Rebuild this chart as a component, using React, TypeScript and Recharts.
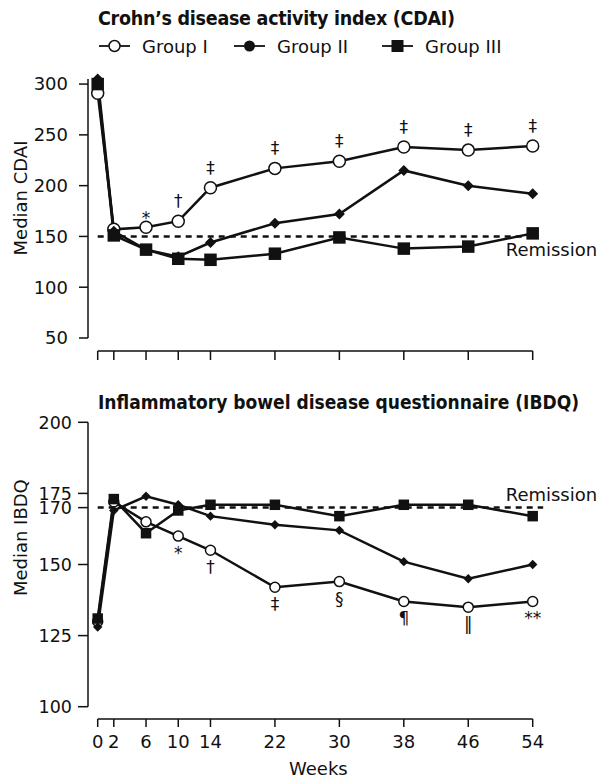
import { Line, LineChart, ReferenceLine, XAxis, YAxis } from "recharts";

// weeks after start of treatment
const weeks = [0, 2, 6, 10, 14, 22, 30, 38, 46, 54];

// median CDAI
const cdaiGroup1 = [291, 157, 159, 165, 198, 217, 224, 238, 235, 239];
const cdaiGroup2 = [305, 155, 137, 130, 144, 163, 172, 215, 200, 192];
const cdaiGroup3 = [300, 151, 137, 128, 127, 133, 149, 138, 140, 153];
const cdaiMarks = ["", "", "*", "†", "‡", "‡", "‡", "‡", "‡", "‡"];
const cdaiTicks = [50, 100, 150, 200, 250, 300];
const cdaiRemission = 150;

// median IBDQ
const ibdqGroup1 = [130, 172, 165, 160, 155, 142, 144, 137, 135, 137];
const ibdqGroup2 = [128, 169, 174, 171, 167, 164, 162, 151, 145, 150];
const ibdqGroup3 = [131, 173, 161, 169, 171, 171, 167, 171, 171, 167];
const ibdqMarks = ["", "", "", "*", "†", "‡", "§", "¶", "‖", "**"];
const ibdqTicks = [100, 125, 150, 170, 175, 200];
const ibdqRemission = 170;

const groupNames = ["Group I", "Group II", "Group III"];

const cdaiRows = weeks.map((week, i) => ({
  week,
  g1: cdaiGroup1[i],
  g2: cdaiGroup2[i],
  g3: cdaiGroup3[i],
  mark: cdaiMarks[i],
}));

const ibdqRows = weeks.map((week, i) => ({
  week,
  g1: ibdqGroup1[i],
  g2: ibdqGroup2[i],
  g3: ibdqGroup3[i],
  mark: ibdqMarks[i],
}));

const INK = "#111";
const FONT = "'DejaVu Sans', sans-serif";
const TITLE_FONT = "'DejaVu Sans Condensed', 'DejaVu Sans', sans-serif";
const tickStyle = { fill: INK, fontSize: 18, fontFamily: FONT };
const tickLine = { stroke: INK, strokeWidth: 1.5 };

// open circle, with the significance mark above (CDAI) or below (IBDQ)
function circleDot(r: number, marksAbove: boolean) {
  return (p: any) => {
    const { cx, cy, index, payload } = p;
    if (cx == null || cy == null) return <g key={`o${index}`} />;
    const sym: string = payload?.mark ?? "";
    const star = sym.startsWith("*");
    const base = marksAbove ? cy - (star ? 3 : 14) : cy + 23;
    return (
      <g key={`o${index}`}>
        <circle cx={cx} cy={cy} r={r} fill="#fff" stroke={INK} strokeWidth={1.5} />
        {sym && (
          <text x={cx} y={base} textAnchor="middle" fontFamily={FONT} fontSize={17} fill={INK}>
            {sym}
          </text>
        )}
      </g>
    );
  };
}

function diamondDot(h: number) {
  return (p: any) => {
    const { cx, cy, index } = p;
    if (cx == null || cy == null) return <g key={`d${index}`} />;
    return (
      <path
        key={`d${index}`}
        d={`M${cx},${cy - h}L${cx + h},${cy}L${cx},${cy + h}L${cx - h},${cy}Z`}
        fill={INK}
      />
    );
  };
}

function squareDot(s: number) {
  return (p: any) => {
    const { cx, cy, index } = p;
    if (cx == null || cy == null) return <g key={`s${index}`} />;
    return <rect key={`s${index}`} x={cx - s / 2} y={cy - s / 2} width={s} height={s} fill={INK} />;
  };
}

function yTitle(text: string, dy: number) {
  return (p: any) => {
    const vb = p.viewBox ?? { x: 0, y: 0, width: 0, height: 0 };
    const bx = vb.x + 27;
    const cy = vb.y + vb.height / 2 + dy;
    return (
      <text
        x={bx}
        y={cy}
        transform={`rotate(-90 ${bx} ${cy})`}
        textAnchor="middle"
        fontFamily={FONT}
        fontSize={18}
        fill={INK}
      >
        {text}
      </text>
    );
  };
}

// "Remission" starts at a fixed distance from the left end of the dashed line
function remissionLabel(dx: number, dy: number) {
  return (p: any) => {
    const vb = p.viewBox ?? { x: 0, y: 0, width: 0, height: 0 };
    return (
      <text x={vb.x + dx} y={vb.y + dy} fontFamily={FONT} fontSize={18} fill={INK}>
        Remission
      </text>
    );
  };
}

function weeksLabel(p: any) {
  const vb = p.viewBox ?? { x: 0, y: 0, width: 0, height: 0 };
  return (
    <text x={vb.x + vb.width / 2 + 8} y={vb.y + vb.height} textAnchor="middle" fontFamily={FONT} fontSize={18} fill={INK}>
      Weeks
    </text>
  );
}

function Legend() {
  const items = [
    { x: 99, marker: (cx: number) => <circle cx={cx} cy={46} r={5.5} fill="#fff" stroke={INK} strokeWidth={1.5} /> },
    { x: 234, marker: (cx: number) => <circle cx={cx} cy={46} r={5.5} fill={INK} /> },
    { x: 382, marker: (cx: number) => <rect x={cx - 6} y={40} width={12} height={12} fill={INK} /> },
  ];
  return (
    <g>
      {items.map((it, i) => (
        <g key={groupNames[i]}>
          <line x1={it.x} y1={46} x2={it.x + 31} y2={46} stroke={INK} strokeWidth={1.8} />
          {it.marker(it.x + 15.5)}
          <text x={it.x + 43} y={52.5} fontFamily={FONT} fontSize={18} fill={INK}>
            {groupNames[i]}
          </text>
        </g>
      ))}
    </g>
  );
}

export default function App() {
  return (
    <div style={{ position: "absolute", left: 0, top: 0, width: 605, height: 778, background: "#fff" }}>
      <div style={{ position: "absolute", left: 0, top: 0 }}>
        <LineChart width={605} height={380} data={cdaiRows} margin={{ top: 79, right: 72.3, bottom: 9, left: 0 }}>
          <XAxis
            dataKey="week"
            type="number"
            domain={[0, 54]}
            ticks={weeks}
            interval={0}
            padding={{ left: 9.7, right: 0 }}
            height={20}
            tickSize={9}
            tickFormatter={() => ""}
            axisLine={{ stroke: INK, strokeWidth: 1.5, strokeDasharray: "0 9.7 2000" }}
            tickLine={tickLine}
          />
          <YAxis
            type="number"
            domain={[50, 300]}
            ticks={cdaiTicks}
            interval={0}
            width={88}
            padding={{ top: 0, bottom: 13 }}
            tickSize={9}
            tickMargin={11}
            tick={tickStyle}
            axisLine={{ stroke: INK, strokeWidth: 1.5, strokeDasharray: "259 2000" }}
            tickLine={tickLine}
            label={yTitle("Median CDAI", -17)}
          />
          <ReferenceLine
            segment={[
              { x: 0, y: cdaiRemission },
              { x: 54, y: cdaiRemission },
            ]}
            stroke={INK}
            strokeWidth={2.5}
            strokeDasharray="6 5"
            ifOverflow="visible"
            label={remissionLabel(408, 20)}
          />
          <Line dataKey="g1" name={groupNames[0]} type="linear" stroke={INK} strokeWidth={2.5} dot={circleDot(6, true)} isAnimationActive={false} />
          <Line dataKey="g2" name={groupNames[1]} type="linear" stroke={INK} strokeWidth={2.5} dot={diamondDot(5.5)} isAnimationActive={false} />
          <Line dataKey="g3" name={groupNames[2]} type="linear" stroke={INK} strokeWidth={2.5} dot={squareDot(12.5)} isAnimationActive={false} />
        </LineChart>
      </div>

      <div style={{ position: "absolute", left: 0, top: 380 }}>
        <LineChart width={605} height={398} data={ibdqRows} margin={{ top: 42.3, right: 72.3, bottom: 3, left: 0 }}>
          <XAxis
            dataKey="week"
            type="number"
            domain={[0, 54]}
            ticks={weeks}
            interval={0}
            padding={{ left: 9.7, right: 0 }}
            height={56}
            tickSize={8}
            tickMargin={8}
            tick={tickStyle}
            axisLine={{ stroke: INK, strokeWidth: 1.5, strokeDasharray: "0 9.7 2000" }}
            tickLine={tickLine}
            label={weeksLabel}
          />
          <YAxis
            type="number"
            domain={[100, 200]}
            ticks={ibdqTicks}
            interval={0}
            width={88}
            padding={{ top: 0, bottom: 12.3 }}
            tickSize={10}
            tickMargin={6}
            tick={{ ...tickStyle, fontSize: 17.5 }}
            axisLine={{ stroke: INK, strokeWidth: 1.5, strokeDasharray: "284.4 2000" }}
            tickLine={tickLine}
            label={yTitle("Median IBDQ", -33)}
          />
          <ReferenceLine
            segment={[
              { x: 0, y: ibdqRemission },
              { x: 55.3, y: ibdqRemission },
            ]}
            stroke={INK}
            strokeWidth={2.5}
            strokeDasharray="6 5"
            ifOverflow="visible"
            label={remissionLabel(408, -7)}
          />
          <Line dataKey="g1" name={groupNames[0]} type="linear" stroke={INK} strokeWidth={2.5} dot={circleDot(5, false)} isAnimationActive={false} />
          <Line dataKey="g2" name={groupNames[1]} type="linear" stroke={INK} strokeWidth={2.5} dot={diamondDot(4.7)} isAnimationActive={false} />
          <Line dataKey="g3" name={groupNames[2]} type="linear" stroke={INK} strokeWidth={2.5} dot={squareDot(10.5)} isAnimationActive={false} />
        </LineChart>
      </div>

      <svg width={605} height={778} style={{ position: "absolute", left: 0, top: 0, pointerEvents: "none" }}>
        <text x={98} y={25} fontFamily={TITLE_FONT} fontWeight="bold" fontSize={19.5} textLength={357} lengthAdjust="spacing" fill={INK}>
          Crohn’s disease activity index (CDAI)
        </text>
        <Legend />
        <text x={98} y={409} fontFamily={TITLE_FONT} fontWeight="bold" fontSize={19} fill={INK}>
          Inflammatory bowel disease questionnaire (IBDQ)
        </text>
      </svg>
    </div>
  );
}
